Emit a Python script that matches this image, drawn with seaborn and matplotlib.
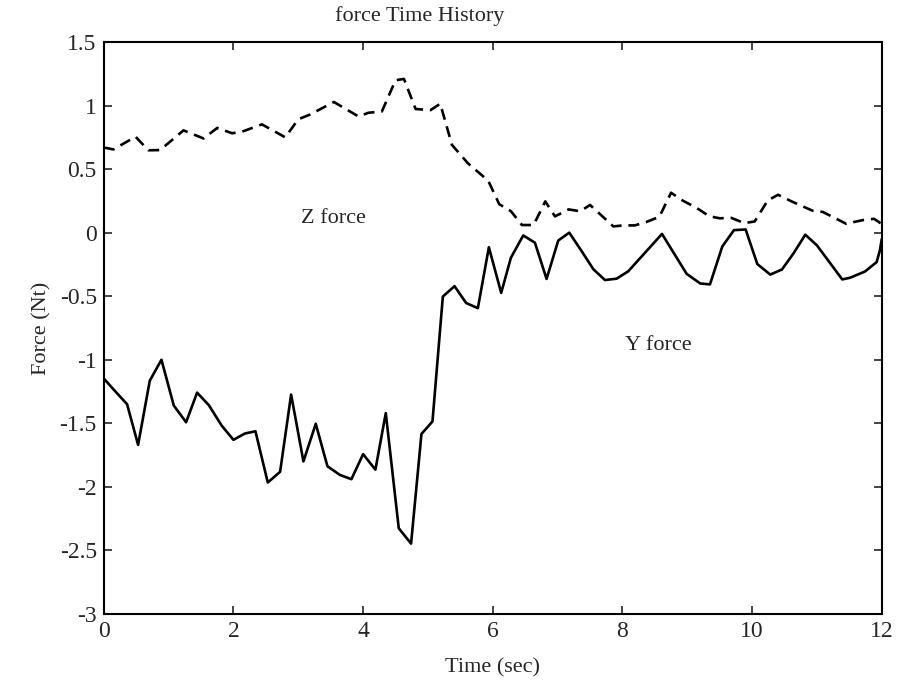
import matplotlib
matplotlib.use("Agg")
import matplotlib.pyplot as plt
import seaborn as sns
import pandas as pd

# Z force (dashed)
z_time = [0, 0.15, 0.49, 0.69, 0.87, 1.23, 1.54, 1.75, 1.98, 2.13, 2.44, 2.8, 3.0, 3.18, 3.55,
          3.93, 4.08, 4.29, 4.5, 4.63, 4.81, 5.04, 5.19, 5.37, 5.62, 5.93, 6.1, 6.28, 6.45, 6.63,
          6.81, 6.96, 7.17, 7.35, 7.5, 7.86, 8.01, 8.19, 8.37, 8.57, 8.75, 8.93, 9.14, 9.34, 9.5,
          9.68, 9.88, 10.04, 10.24, 10.4, 10.6, 10.93, 11.09, 11.45, 11.7, 11.88, 12.0]
z_force = [0.67, 0.655, 0.755, 0.648, 0.65, 0.805, 0.741, 0.824, 0.782, 0.794, 0.852, 0.75, 0.892, 0.929, 1.028,
           0.914, 0.943, 0.954, 1.199, 1.21, 0.973, 0.964, 1.015, 0.691, 0.544, 0.409, 0.224, 0.169, 0.06, 0.06,
           0.246, 0.128, 0.183, 0.168, 0.218, 0.049, 0.057, 0.057, 0.084, 0.125, 0.314, 0.252, 0.196, 0.129, 0.113,
           0.116, 0.075, 0.088, 0.253, 0.298, 0.248, 0.173, 0.163, 0.07, 0.098, 0.109, 0.068]

# Y force (solid)
y_time = [0, 0.155, 0.36, 0.53, 0.71, 0.89, 1.08, 1.27, 1.44, 1.62, 1.82, 2.0, 2.18, 2.34, 2.53,
          2.72, 2.89, 3.08, 3.27, 3.45, 3.64, 3.82, 4.0, 4.19, 4.35, 4.55, 4.74, 4.9, 5.07, 5.23,
          5.41, 5.59, 5.77, 5.94, 6.13, 6.28, 6.47, 6.65, 6.83, 7.01, 7.18, 7.37, 7.55, 7.73, 7.91,
          8.09, 8.61, 8.99, 9.2, 9.35, 9.54, 9.72, 9.9, 10.08, 10.28, 10.46, 10.64, 10.82, 11.0, 11.39,
          11.51, 11.74, 11.92, 11.97, 12.0]
y_force = [-1.147, -1.236, -1.35, -1.67, -1.165, -1.0, -1.36, -1.492, -1.259, -1.357, -1.519, -1.63, -1.58, -1.563, -1.966,
           -1.882, -1.274, -1.8, -1.504, -1.838, -1.906, -1.94, -1.743, -1.865, -1.42, -2.326, -2.447, -1.584, -1.486, -0.503,
           -0.421, -0.554, -0.594, -0.115, -0.474, -0.197, -0.022, -0.079, -0.364, -0.062, 0.0, -0.145, -0.287, -0.373, -0.362,
           -0.304, -0.01, -0.324, -0.4, -0.407, -0.109, 0.02, 0.025, -0.247, -0.33, -0.29, -0.162, -0.016, -0.1, -0.368,
           -0.355, -0.306, -0.232, -0.141, -0.05]

x_ticks = [0, 2, 4, 6, 8, 10, 12]
y_ticks = [-3, -2.5, -2, -1.5, -1, -0.5, 0, 0.5, 1, 1.5]
y_tick_labels = ["-3", "-2.5", "-2", "-1.5", "-1", "-0.5", "0", "0.5", "1", "1.5"]

sns.set_style("ticks")
plt.rcParams["font.family"] = ["Liberation Serif", "DejaVu Serif"]

fig = plt.figure(figsize=(9.1, 6.89), dpi=100)
ax = fig.add_axes([0.114, 0.109, 0.855, 0.83])

dz = pd.DataFrame({"t": z_time, "f": z_force})
dy = pd.DataFrame({"t": y_time, "f": y_force})
sns.lineplot(data=dz, x="t", y="f", ax=ax, color="black", linewidth=1.9,
             linestyle=(0, (4.2, 2.6)), estimator=None)
sns.lineplot(data=dy, x="t", y="f", ax=ax, color="black", linewidth=1.9, estimator=None)

ax.set_xlim(0, 12)
ax.set_ylim(-3, 1.5)
ax.set_xticks(x_ticks)
ax.set_xticklabels([str(v) for v in x_ticks])
ax.set_yticks(y_ticks)
ax.set_yticklabels(y_tick_labels)
ax.tick_params(direction="in", top=True, right=True, length=6, width=1.2,
               labelsize=17, pad=5)
for s in ax.spines.values():
    s.set_visible(True)
    s.set_linewidth(1.5)
    s.set_color("black")

ax.text(3.54, 0.11, "Z force", fontsize=16, ha="center", va="center")
ax.text(8.55, -0.89, "Y force", fontsize=16, ha="center", va="center")

fig.text(420 / 910, 1 - 16 / 689, "force Time History", fontsize=16,
         ha="center", va="center")
ax.set_xlabel("Time (sec)", fontsize=16, labelpad=12)
ax.set_ylabel("Force (Nt)", fontsize=16, labelpad=6)

fig.savefig("out.png", dpi=100)
